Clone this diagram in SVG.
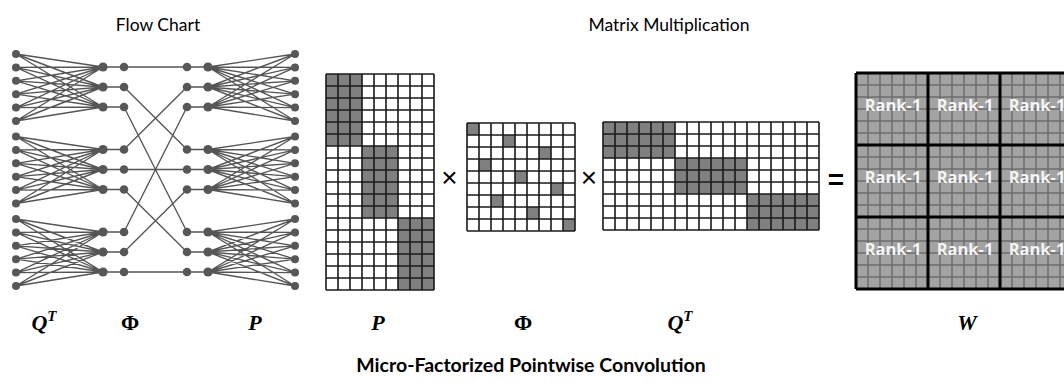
<svg xmlns="http://www.w3.org/2000/svg" xmlns:xlink="http://www.w3.org/1999/xlink" width="1064" height="383" viewBox="0 0 1064 383">
<style>
.title{font-family:Lato,"Liberation Sans",sans-serif;font-size:17.5px;fill:#000;text-anchor:middle}
.btitle{font-family:Lato,"Liberation Sans",sans-serif;font-size:19.5px;font-weight:bold;fill:#000;text-anchor:middle}
.math{font-family:"Liberation Serif",serif;font-size:22px;font-weight:bold;font-style:italic;fill:#000;text-anchor:middle}
.phi{font-family:"Liberation Serif",serif;font-size:22px;font-weight:bold;fill:#000;text-anchor:middle}
.edge{fill:none;stroke:#555;stroke-width:1.35}
.node{fill:#575757}
.grid{fill:none;stroke:#1a1a1a;stroke-width:1.6}
.cell{fill:#808080}
.wcell{fill:#a3a3a3}
.wgrid{fill:none;stroke:#6e6e6e;stroke-width:1.5}
.wthick{fill:none;stroke:#000;stroke-width:3}
.rank{font-family:"Open Sans","Liberation Sans",sans-serif;font-size:16.5px;font-weight:bold;fill:#f4f4f4;text-anchor:middle}
.op{font-family:"Liberation Sans",sans-serif;fill:#000;text-anchor:middle}
</style>
<defs>
<path id="bp" d="M16 54L103 67M16 54L103 87M16 54L103 107M16 67.4L103 67M16 67.4L103 87M16 67.4L103 107M16 80.8L103 67M16 80.8L103 87M16 80.8L103 107M16 94.2L103 67M16 94.2L103 87M16 94.2L103 107M16 107.6L103 67M16 107.6L103 87M16 107.6L103 107M16 121L103 67M16 121L103 87M16 121L103 107M103 67L124 67M103 87L124 87M103 107L124 107"/>
<g id="nd">
<circle cx="16" cy="54" r="4"/><circle cx="16" cy="67.4" r="4"/><circle cx="16" cy="80.8" r="4"/><circle cx="16" cy="94.2" r="4"/><circle cx="16" cy="107.6" r="4"/><circle cx="16" cy="121" r="4"/>
<circle cx="103" cy="67" r="4.6"/><circle cx="103" cy="87" r="4.6"/><circle cx="103" cy="107" r="4.6"/>
<circle cx="124" cy="67" r="4.3"/><circle cx="124" cy="87" r="4.3"/><circle cx="124" cy="107" r="4.3"/>
</g>
</defs>
<rect width="1064" height="383" fill="#fff"/>

<text class="title" x="158" y="31">Flow Chart</text>
<text class="title" x="669" y="31">Matrix Multiplication</text>

<g id="connectors" class="edge">
<use xlink:href="#bp"/>
<use xlink:href="#bp" transform="translate(0,82.5)"/>
<use xlink:href="#bp" transform="translate(0,165)"/>
<use xlink:href="#bp" transform="translate(311,0) scale(-1,1)"/>
<use xlink:href="#bp" transform="translate(311,82.5) scale(-1,1)"/>
<use xlink:href="#bp" transform="translate(311,165) scale(-1,1)"/>
<path d="M124 67L187 67M124 87L187 149.5M124 107L187 232M124 149.5L187 87M124 169.5L187 169.5M124 189.5L187 252M124 232L187 107M124 252L187 189.5M124 272L187 272"/>
</g>

<g id="nodes" class="node">
<g id="node-left-g1"><use xlink:href="#nd"/></g>
<g id="node-left-g2"><use xlink:href="#nd" transform="translate(0,82.5)"/></g>
<g id="node-left-g3"><use xlink:href="#nd" transform="translate(0,165)"/></g>
<g id="node-right-g1"><use xlink:href="#nd" transform="translate(311,0) scale(-1,1)"/></g>
<g id="node-right-g2"><use xlink:href="#nd" transform="translate(311,82.5) scale(-1,1)"/></g>
<g id="node-right-g3"><use xlink:href="#nd" transform="translate(311,165) scale(-1,1)"/></g>
</g>

<g id="matrix-P">
<rect class="cell" x="326" y="74" width="36" height="72"/>
<rect class="cell" x="362" y="146" width="36" height="72"/>
<rect class="cell" x="398" y="218" width="36" height="72"/>
<path class="grid" d="M326 74V290M338 74V290M350 74V290M362 74V290M374 74V290M386 74V290M398 74V290M410 74V290M422 74V290M434 74V290M326 74H434M326 86H434M326 98H434M326 110H434M326 122H434M326 134H434M326 146H434M326 158H434M326 170H434M326 182H434M326 194H434M326 206H434M326 218H434M326 230H434M326 242H434M326 254H434M326 266H434M326 278H434M326 290H434"/>
</g>

<text class="op" x="449.5" y="187" font-size="28">×</text>

<g id="matrix-Phi">
<rect class="cell" x="467" y="123" width="12" height="12"/>
<rect class="cell" x="503" y="135" width="12" height="12"/>
<rect class="cell" x="539" y="147" width="12" height="12"/>
<rect class="cell" x="479" y="159" width="12" height="12"/>
<rect class="cell" x="515" y="171" width="12" height="12"/>
<rect class="cell" x="551" y="183" width="12" height="12"/>
<rect class="cell" x="491" y="195" width="12" height="12"/>
<rect class="cell" x="527" y="207" width="12" height="12"/>
<rect class="cell" x="563" y="219" width="12" height="12"/>
<path class="grid" d="M467 123V231M479 123V231M491 123V231M503 123V231M515 123V231M527 123V231M539 123V231M551 123V231M563 123V231M575 123V231M467 123H575M467 135H575M467 147H575M467 159H575M467 171H575M467 183H575M467 195H575M467 207H575M467 219H575M467 231H575"/>
</g>

<text class="op" x="589" y="187" font-size="28">×</text>

<g id="matrix-QT">
<rect class="cell" x="603" y="122" width="72" height="36"/>
<rect class="cell" x="675" y="158" width="72" height="36"/>
<rect class="cell" x="747" y="194" width="72" height="36"/>
<path class="grid" d="M603 122V230M615 122V230M627 122V230M639 122V230M651 122V230M663 122V230M675 122V230M687 122V230M699 122V230M711 122V230M723 122V230M735 122V230M747 122V230M759 122V230M771 122V230M783 122V230M795 122V230M807 122V230M819 122V230M603 122H819M603 134H819M603 146H819M603 158H819M603 170H819M603 182H819M603 194H819M603 206H819M603 218H819M603 230H819"/>
</g>

<text class="op" x="836" y="189" font-size="28" font-weight="bold">=</text>

<g id="matrix-W">
<rect class="wcell" x="856" y="73" width="216" height="216"/>
<path class="wgrid" d="M868 73V289M880 73V289M892 73V289M904 73V289M916 73V289M940 73V289M952 73V289M964 73V289M976 73V289M988 73V289M1012 73V289M1024 73V289M1036 73V289M1048 73V289M1060 73V289M856 85H1072M856 97H1072M856 109H1072M856 121H1072M856 133H1072M856 157H1072M856 169H1072M856 181H1072M856 193H1072M856 205H1072M856 229H1072M856 241H1072M856 253H1072M856 265H1072M856 277H1072"/>
<path class="wthick" d="M856 73V289M928 73V289M1000 73V289M1072 73V289M856 73H1072M856 145H1072M856 217H1072M856 289H1072"/>
<text class="rank" x="893" y="111">Rank-1</text>
<text class="rank" x="965" y="111">Rank-1</text>
<text class="rank" x="1037" y="111">Rank-1</text>
<text class="rank" x="893" y="183">Rank-1</text>
<text class="rank" x="965" y="183">Rank-1</text>
<text class="rank" x="1037" y="183">Rank-1</text>
<text class="rank" x="893" y="255">Rank-1</text>
<text class="rank" x="965" y="255">Rank-1</text>
<text class="rank" x="1037" y="255">Rank-1</text>
</g>

<g id="labels">
<text class="math" x="44" y="330">Q<tspan font-size="15" dy="-9">T</tspan></text>
<text class="phi" x="130" y="330">Φ</text>
<text class="math" x="255" y="330">P</text>
<text class="math" x="378" y="330">P</text>
<text class="phi" x="523" y="330">Φ</text>
<text class="math" x="680" y="330">Q<tspan font-size="15" dy="-9">T</tspan></text>
<text class="math" x="967" y="330">W</text>
</g>

<text class="btitle" x="531" y="372">Micro-Factorized Pointwise Convolution</text>
</svg>
